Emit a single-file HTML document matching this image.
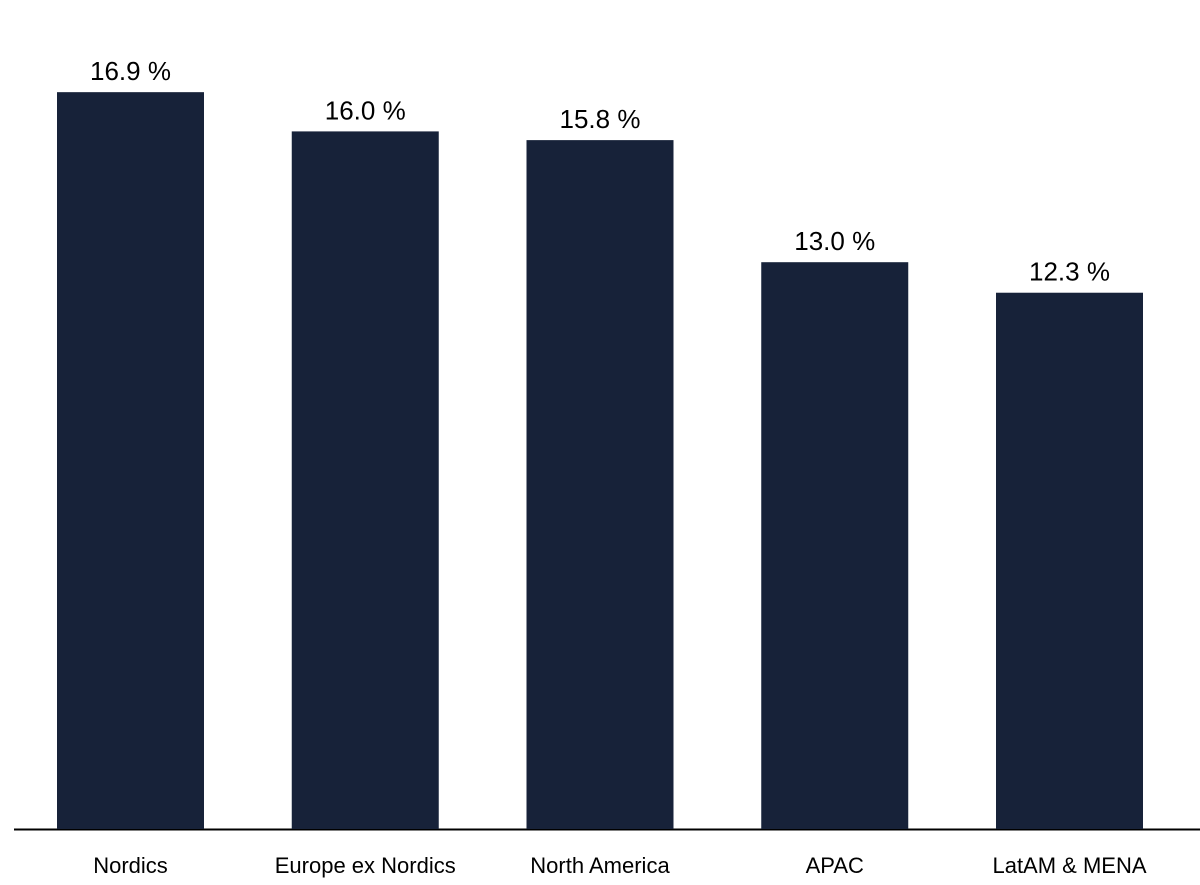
<!DOCTYPE html>
<html><head><meta charset="utf-8"><style>
body{margin:0;background:#fff;}
svg{display:block;font-family:"Liberation Sans",Arial,sans-serif;}
</style></head><body>
<svg id="chart" width="1200" height="885">
<line x1="14" x2="1200" y1="829.5" y2="829.5" stroke="#000" stroke-width="2"/>
</svg>
<script>
const categories=["Nordics","Europe ex Nordics","North America","APAC","LatAM & MENA"];
const values=[16.9,16.0,15.8,13.0,12.3];
const valueLabels=["16.9 %","16.0 %","15.8 %","13.0 %","12.3 %"];
const svg=document.getElementById('chart');
const NS="http://www.w3.org/2000/svg";
const y0=829, pxPerUnit=43.6, x0=57, pitch=234.75, bw=147;
function yScale(v){return y0-v*pxPerUnit;}
function xScale(i){return x0+i*pitch;}
categories.forEach((c,i)=>{
  const x=xScale(i), y=yScale(values[i]);
  const r=document.createElementNS(NS,'rect');
  r.setAttribute('x',x);r.setAttribute('y',y);r.setAttribute('width',bw);r.setAttribute('height',y0-y);
  r.setAttribute('fill','#172239');
  
  
  svg.appendChild(r);
  const t=document.createElementNS(NS,'text');
  t.setAttribute('x',x+bw/2);t.setAttribute('y',y-12);t.setAttribute('text-anchor','middle');
  t.setAttribute('font-size','26');t.setAttribute('fill','#000');
  t.textContent=valueLabels[i];
  
  
  svg.appendChild(t);
  const l=document.createElementNS(NS,'text');
  l.setAttribute('x',x+bw/2);l.setAttribute('y',873);l.setAttribute('text-anchor','middle');
  l.setAttribute('font-size','22');l.setAttribute('fill','#000');
  l.textContent=c;
  
  
  svg.appendChild(l);
});
</script>
</body></html>
